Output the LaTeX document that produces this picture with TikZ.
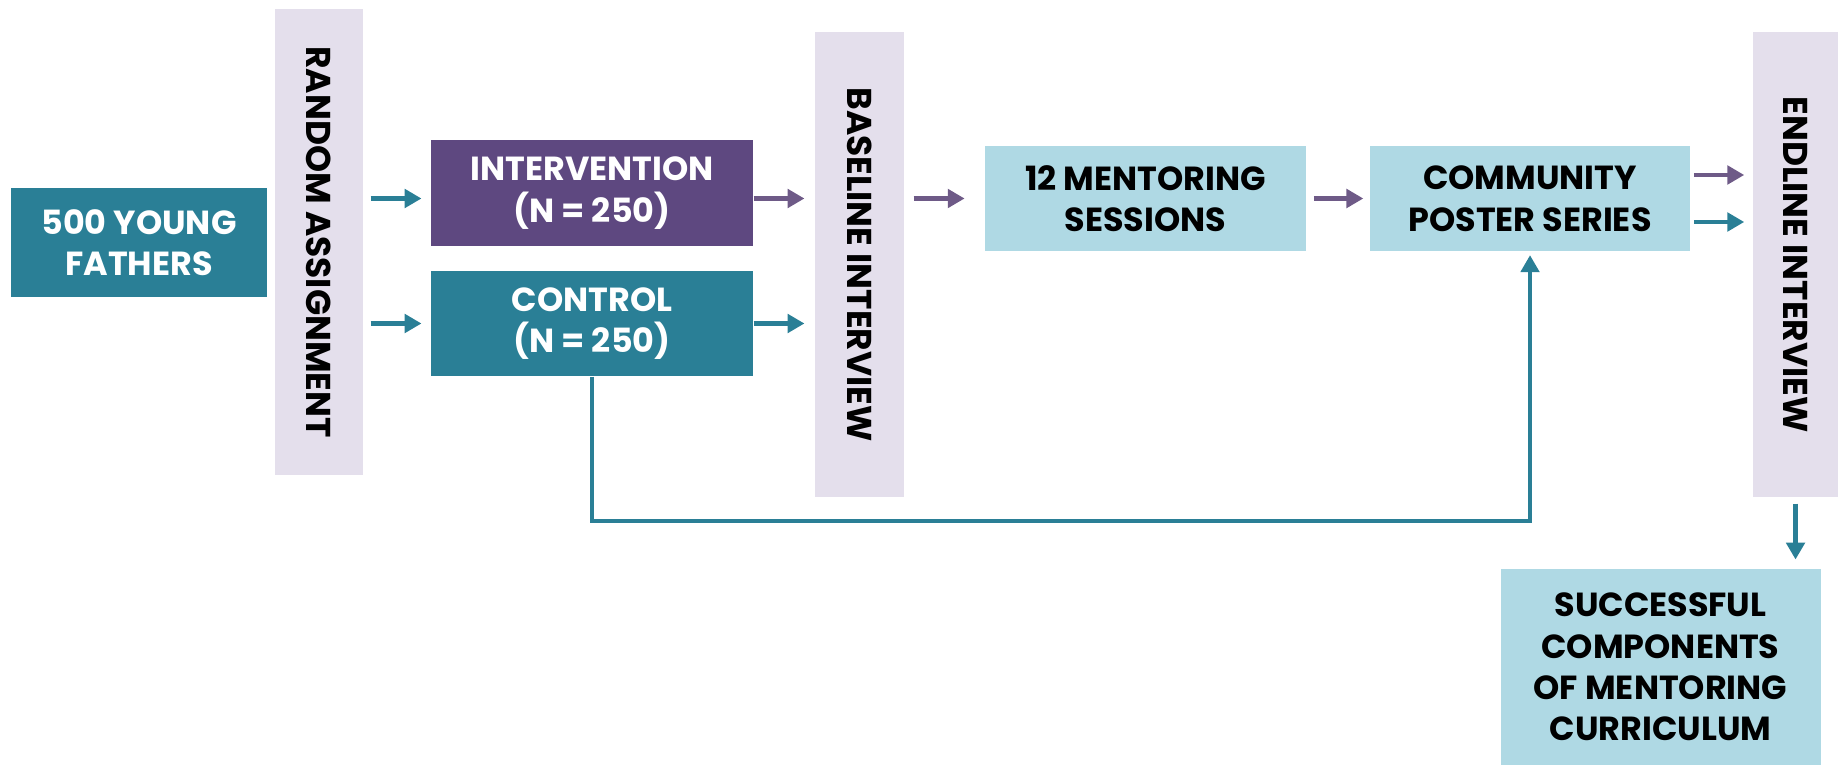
\documentclass[tikz,border=0pt]{standalone}
\usepackage{fontspec}
\setmainfont{Poppins}
\usepackage{tikz}
\usetikzlibrary{arrows.meta,positioning}
\definecolor{tealbox}{RGB}{42,127,150}
\definecolor{purplebox}{RGB}{94,72,128}
\definecolor{lightbox}{RGB}{175,217,228}
\definecolor{barfill}{RGB}{228,223,236}
\definecolor{purplearrow}{RGB}{110,90,135}
\tikzset{
    darkbox/.style={fill=#1, text=white, font=\bfseries\fontsize{9.5}{11.8}\selectfont,
        align=center, inner sep=0pt, minimum width=3.21cm, minimum height=1.05cm},
    palebox/.style={fill=lightbox, text=black, font=\bfseries\fontsize{9.5}{11.8}\selectfont,
        align=center, inner sep=0pt, minimum width=3.21cm, minimum height=1.05cm},
    barbox/.style={fill=barfill, text=black, font=\bfseries\fontsize{9.8}{12}\selectfont,
        inner sep=0pt, minimum width=4.65cm, minimum height=0.88cm, rotate=-90},
    tarrow/.style={draw=tealbox, line width=1.3pt, -{Triangle[length=4.8pt,width=5.2pt]},
        shorten <=2pt, shorten >=2.5pt},
    parrow/.style={tarrow, draw=purplearrow},
}

\begin{document}
\begin{tikzpicture}
                        \useasboundingbox (0,0) rectangle (18.43,7.65);
                        % boxes
                        \node[darkbox=tealbox, minimum width=2.56cm, minimum height=1.09cm] (fathers) at (1.39,5.225) {500 YOUNG\\FATHERS};
                        \node[barbox, minimum width=4.66cm] (random) at (3.19,5.23) {RANDOM ASSIGNMENT};
                        \node[darkbox=purplebox, minimum width=3.22cm, minimum height=1.06cm] (interv) at (5.92,5.72) {INTERVENTION\\(N = 250)};
                        \node[darkbox=tealbox, minimum width=3.22cm] (control) at (5.92,4.415) {CONTROL\\(N = 250)};
                        \node[barbox, minimum height=0.89cm] (baseline) at (8.595,5.005) {BASELINE INTERVIEW};
                        \node[palebox] (mentor) at (11.455,5.665) {12 MENTORING\\SESSIONS};
                        \node[palebox, minimum width=3.20cm] (poster) at (15.30,5.665) {COMMUNITY\\POSTER SERIES};
                        \node[barbox, minimum height=0.85cm] (endline) at (17.955,5.005) {ENDLINE INTERVIEW};
                        \node[palebox, minimum width=3.2cm, minimum height=1.96cm] (success) at (16.605,0.98) {SUCCESSFUL\\COMPONENTS\\OF MENTORING\\CURRICULUM};
                        % arrows (bars are turned, so their north side faces right)
                        \draw[tarrow] (random.north |- mentor.west) -- (interv.west |- mentor.west);
                        \draw[tarrow] (random.north |- control.west) -- (control.west);
                        \draw[parrow, shorten <=0pt, shorten >=2.8pt] (interv.east |- mentor.west) -- (baseline.south |- mentor.west);
                        \draw[tarrow, shorten <=0pt, shorten >=2.8pt] (control.east) -- (baseline.south |- control.east);
                        \draw[parrow, shorten <=2.5pt, shorten >=5.6pt] (baseline.north |- mentor.west) -- (mentor.west);
                        \draw[parrow, shorten >=1.7pt] (mentor.east) -- (poster.west);
                        \draw[parrow, shorten <=0.9pt, shorten >=2.3pt] ([yshift=0.235cm]poster.east) -- ([yshift=0.235cm]endline.south |- poster.east);
                        \draw[tarrow, shorten <=0.9pt, shorten >=2.3pt] ([yshift=-0.235cm]poster.east) -- ([yshift=-0.235cm]endline.south |- poster.east);
                        \draw[tarrow, line width=1.1pt, shorten <=0pt, shorten >=1pt] (control.south) -- ++(0,-1.44) -| (poster.south);
                        \draw[tarrow, shorten <=1.7pt] (endline.east) -- (endline.east |- success.north);
\end{tikzpicture}
\end{document}
